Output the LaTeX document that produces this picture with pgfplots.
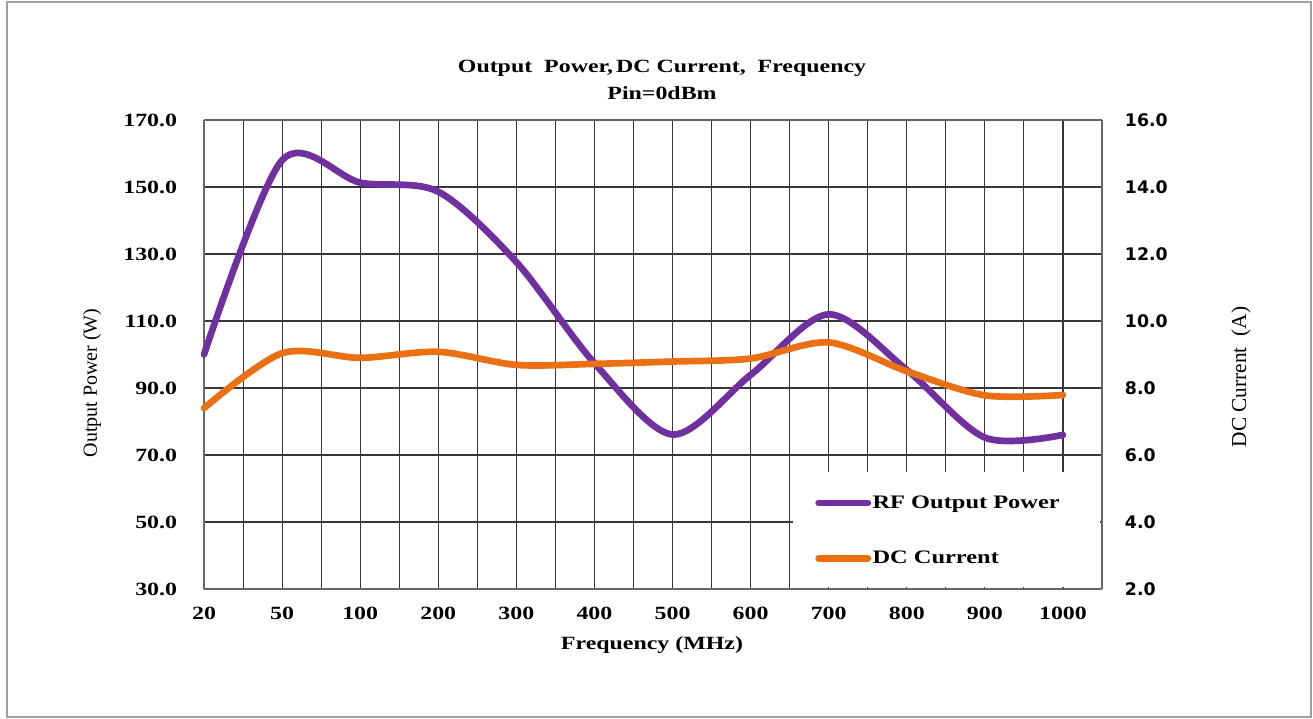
\documentclass[border=0pt]{standalone}
\usepackage{pgfplots}
\pgfplotsset{compat=1.18}
\usepackage{fontspec}
\setmainfont[FakeStretch=1.28]{Liberation Serif}
\newfontfamily\rotfont{Liberation Serif}
\newfontfamily\rightfont{DejaVu Sans}
\definecolor{rfpurple}{RGB}{112,48,160}
\definecolor{dcorange}{RGB}{235,112,20}
\definecolor{gridc}{RGB}{55,55,55}
\pgfplotstableread{
x y
0 100.0
1 158.0
2 151.3
3 148.6
4 127.6
5 97.4
6 76.1
7 93.9
8 112.0
9 95.4
10 75.2
11 76.0
}\rfdata
\pgfplotstableread{
x y
0 7.40
1 9.04
2 8.90
3 9.08
4 8.69
5 8.72
6 8.79
7 8.88
8 9.36
9 8.50
10 7.78
11 7.79
}\dcdata
\begin{document}
\begin{tikzpicture}
\useasboundingbox (0,0) rectangle (984.75pt,538.5pt);
\draw[gray!75, line width=1.5pt] (5.25pt,0.9pt) rectangle (983.25pt,537pt);
\begin{axis}[
  at={(153pt,96.75pt)}, anchor=south west,
  scale only axis, width=673.5pt, height=351.75pt,
  xmin=0, xmax=11.5, ymin=30, ymax=170,
  xtick={0,...,11}, minor xtick={0.5,1.5,...,11.5},
  xticklabels={20,50,100,200,300,400,500,600,700,800,900,1000},
  ytick={30,50,...,170},
  yticklabels={30.0,50.0,70.0,90.0,110.0,130.0,150.0,170.0},
  grid=both,
  major grid style={draw=gridc, line width=0.8pt},
  minor grid style={draw=gridc, line width=0.8pt},
  axis line style={draw=gray!80!black, line width=1pt},
  major tick length=0pt, minor tick length=0pt,
  axis y line*=left,
  xticklabel style={inner sep=0pt, yshift=-13.5pt, font=\fontsize{14}{16}\selectfont\bfseries},
  yticklabel style={inner sep=0pt, xshift=-20pt, font=\fontsize{14}{16}\selectfont\bfseries},
  clip=false,
]
\addplot[rfpurple, line width=5pt, smooth, line cap=round, line join=round] table[x=x,y=y] {\rfdata};
\fill[white] (axis description cs:0.6560,0.004) rectangle (axis description cs:0.998,0.2495);
\end{axis}
\begin{axis}[
  at={(153pt,96.75pt)}, anchor=south west,
  scale only axis, width=673.5pt, height=351.75pt,
  xmin=0, xmax=11.5, ymin=2, ymax=16,
  ytick={2,4,...,16},
  yticklabels={2.0,4.0,6.0,8.0,10.0,12.0,14.0,16.0},
  axis y line*=right, axis x line=none,
  axis line style={draw=gray!80!black, line width=1pt},
  major tick length=0pt,
  yticklabel style={inner sep=0pt, xshift=17pt, font=\fontsize{13}{15}\selectfont\rightfont\bfseries},
  legend style={at={(axis description cs:0.6804,0.2025)}, anchor=north west,
    draw=none, fill=none, inner sep=0pt, row sep=28.5pt,
    font=\fontsize{14.3}{16}\selectfont\bfseries,
    nodes={inner sep=1pt}},
  legend cell align=left,
  legend image code/.code={\draw[#1, line width=5pt, line cap=round] (0pt,0pt) -- (37pt,0pt);},
  clip=false,
]
\addlegendimage{rfpurple}
\addlegendentry{RF Output Power}
\addplot[dcorange, line width=5pt, smooth, line cap=round, line join=round] table[x=x,y=y] {\dcdata};
\addlegendentry{DC Current}
\end{axis}
\node[font=\fontsize{14}{15}\selectfont\bfseries] at (496.5pt,487.5pt) {Output\ \ Power,\,DC Current,\ \ Frequency};
\node[font=\fontsize{14}{15}\selectfont\bfseries] at (496.5pt,468.75pt) {Pin=0dBm};
\node[font=\fontsize{14}{16}\selectfont\bfseries] at (489pt,54.75pt) {Frequency (MHz)};
\node[rotate=90, font=\fontsize{15}{17}\selectfont\rotfont] at (69pt,251.25pt) {Output Power (W)};
\node[rotate=90, font=\fontsize{16}{18}\selectfont\rotfont] at (930.75pt,255.75pt) {DC Current\ \ (A)};
\end{tikzpicture}
\end{document}
